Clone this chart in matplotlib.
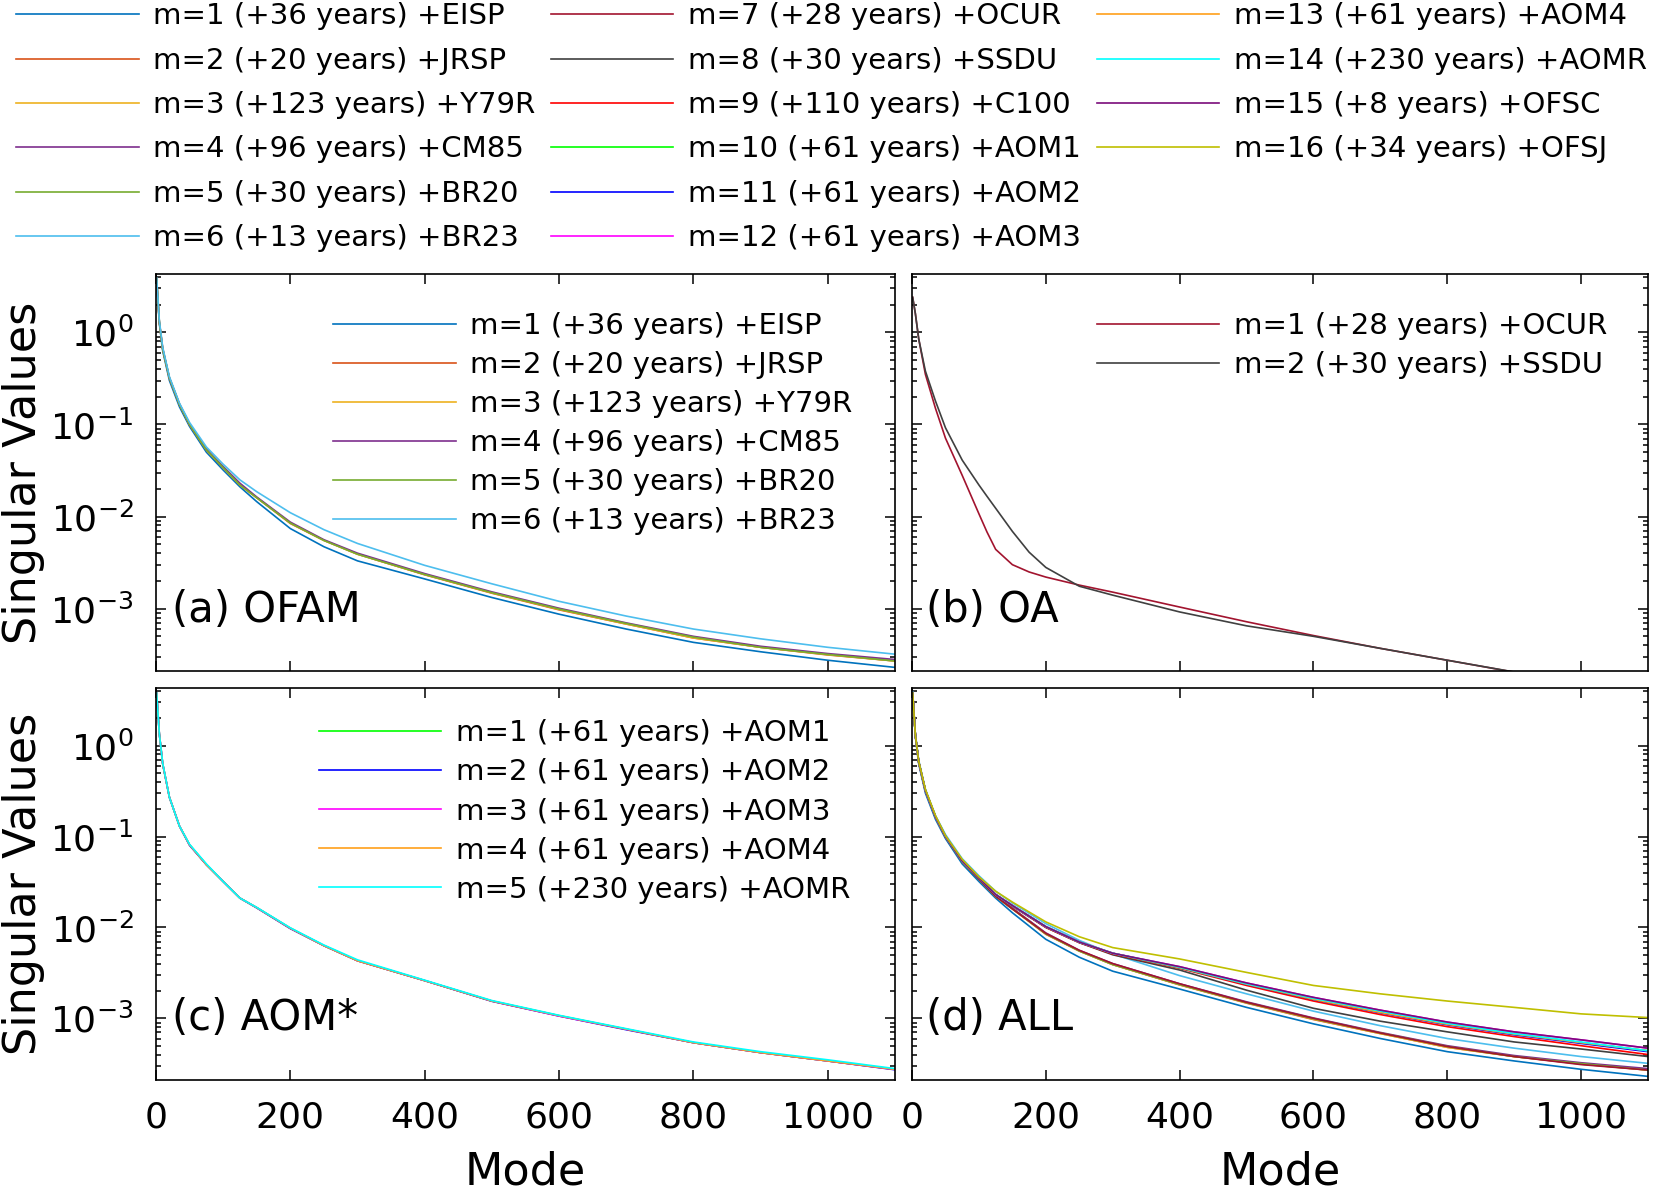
import numpy as np
import matplotlib.pyplot as plt

plt.rcParams['font.family'] = ['DejaVu Sans']
plt.rcParams['axes.unicode_minus'] = False

modes = [1, 5, 10, 20, 35, 50, 75, 100, 125, 150, 200, 250, 300,
         400, 500, 600, 700, 800, 900, 1000, 1100]
# panel (b) has a sharper knee, so it got a few extra reading points
modes_b = [1, 5, 10, 20, 35, 50, 75, 100, 112, 125, 150, 175, 200, 250, 300,
           400, 500, 600, 700, 800, 900, 1000, 1100]

# (a) OFAM
eisp = [3.6, 1.25, 0.63, 0.30, 0.155, 0.095, 0.050, 0.032, 0.021, 0.0145, 0.0074, 0.0047, 0.0033,
        0.0021, 0.00132, 0.00087, 0.00060, 0.00043, 0.00034, 0.000275, 0.00023]
jrsp = [3.8, 1.3, 0.66, 0.32, 0.165, 0.099, 0.053, 0.034, 0.022, 0.016, 0.0084, 0.0055, 0.0039,
        0.00233, 0.00147, 0.00097, 0.00068, 0.00048, 0.00038, 0.000314, 0.00027]
y79r = [3.8, 1.3, 0.66, 0.32, 0.165, 0.100, 0.053, 0.034, 0.022, 0.016, 0.0085, 0.0055, 0.0039,
        0.00234, 0.00148, 0.00098, 0.00068, 0.00048, 0.00038, 0.000316, 0.00027]
cm85 = [3.8, 1.3, 0.67, 0.32, 0.167, 0.101, 0.054, 0.035, 0.023, 0.0163, 0.0087, 0.0056, 0.0040,
        0.00240, 0.00152, 0.00101, 0.00070, 0.00050, 0.00039, 0.000325, 0.00028]
br20 = [3.8, 1.3, 0.66, 0.32, 0.165, 0.100, 0.053, 0.034, 0.022, 0.016, 0.0085, 0.0055, 0.0039,
        0.00235, 0.00149, 0.00099, 0.00069, 0.00049, 0.00038, 0.000318, 0.00027]
br23 = [3.9, 1.35, 0.69, 0.33, 0.17, 0.105, 0.057, 0.037, 0.025, 0.0186, 0.0110, 0.0072, 0.0051,
        0.00295, 0.00186, 0.00120, 0.00083, 0.00060, 0.00047, 0.00038, 0.00032]

# (b) OA
ocur = [2.4, 1.6, 0.85, 0.35, 0.15, 0.071, 0.028, 0.0107, 0.0068, 0.0044, 0.0030, 0.0025, 0.0022,
        0.0018, 0.00151, 0.00104, 0.00072, 0.00051, 0.00037, 0.000275, 0.000204, 0.000150, 0.000110]
ssdu = [2.4, 1.6, 0.85, 0.38, 0.18, 0.092, 0.041, 0.022, 0.0166, 0.0123, 0.0069, 0.0041, 0.0028,
        0.00175, 0.00140, 0.00092, 0.00065, 0.00050, 0.00037, 0.000275, 0.000205, 0.000150, 0.000110]

# (c) AOM*
aom1 = [3.8, 1.35, 0.63, 0.27, 0.13, 0.081, 0.049, 0.032, 0.021, 0.0165, 0.0098, 0.0063, 0.0043,
        0.0026, 0.00155, 0.00107, 0.00076, 0.00054, 0.00042, 0.00034, 0.000275]
aom2 = [3.8, 1.35, 0.63, 0.27, 0.13, 0.080, 0.049, 0.032, 0.021, 0.0164, 0.0097, 0.0063, 0.0043,
        0.0026, 0.00154, 0.00106, 0.00075, 0.00054, 0.00042, 0.00034, 0.000272]
aom3 = [3.8, 1.35, 0.63, 0.27, 0.13, 0.081, 0.049, 0.032, 0.021, 0.0165, 0.0098, 0.0063, 0.0043,
        0.0026, 0.00155, 0.00106, 0.00076, 0.00054, 0.00042, 0.00034, 0.000274]
aom4 = [3.8, 1.35, 0.63, 0.27, 0.13, 0.081, 0.049, 0.032, 0.021, 0.0165, 0.0098, 0.0063, 0.0043,
        0.0026, 0.00155, 0.00107, 0.00076, 0.00054, 0.00042, 0.00034, 0.000275]
aomr = [3.8, 1.35, 0.64, 0.27, 0.13, 0.082, 0.050, 0.032, 0.021, 0.0166, 0.0099, 0.0064, 0.0044,
        0.00263, 0.00157, 0.00108, 0.00077, 0.00055, 0.00043, 0.00035, 0.00028]

# (d) ALL : m=1..6 same as (a), the rest
all_ocur = [3.8, 1.3, 0.66, 0.32, 0.165, 0.100, 0.053, 0.034, 0.022, 0.016, 0.0086, 0.0056, 0.0040,
            0.00240, 0.00150, 0.00100, 0.00069, 0.00049, 0.00038, 0.00031, 0.00027]
all_ssdu = [3.8, 1.3, 0.66, 0.32, 0.165, 0.100, 0.054, 0.035, 0.023, 0.0172, 0.0100, 0.0068, 0.0050,
            0.0034, 0.00204, 0.00129, 0.00093, 0.00071, 0.00055, 0.00046, 0.00038]
all_c100 = [3.8, 1.3, 0.66, 0.32, 0.165, 0.100, 0.054, 0.035, 0.023, 0.0172, 0.0100, 0.0068, 0.0051,
            0.00355, 0.0023, 0.00155, 0.0011, 0.00081, 0.00063, 0.00050, 0.00040]
all_aom1 = [3.8, 1.3, 0.66, 0.32, 0.165, 0.100, 0.054, 0.035, 0.023, 0.0174, 0.0102, 0.0069, 0.0052,
            0.0036, 0.00238, 0.00162, 0.00116, 0.00086, 0.00067, 0.00054, 0.00044]
all_aom2 = [3.8, 1.3, 0.66, 0.32, 0.165, 0.100, 0.054, 0.035, 0.023, 0.0174, 0.0102, 0.0069, 0.0052,
            0.0036, 0.00237, 0.00161, 0.00115, 0.00085, 0.00066, 0.00053, 0.00043]
all_aom3 = [3.8, 1.3, 0.66, 0.32, 0.165, 0.100, 0.054, 0.035, 0.023, 0.0174, 0.0102, 0.0069, 0.0052,
            0.0037, 0.00245, 0.00170, 0.00123, 0.00091, 0.00071, 0.00058, 0.00047]
all_aom4 = [3.8, 1.3, 0.66, 0.32, 0.165, 0.100, 0.054, 0.035, 0.023, 0.0174, 0.0102, 0.0069, 0.0052,
            0.0036, 0.00238, 0.00162, 0.00116, 0.00086, 0.00067, 0.00054, 0.00044]
all_aomr = [3.8, 1.3, 0.66, 0.32, 0.165, 0.100, 0.054, 0.035, 0.023, 0.0174, 0.0102, 0.0069, 0.0052,
            0.00365, 0.0024, 0.00166, 0.00120, 0.00088, 0.00068, 0.00055, 0.00044]
all_ofsc = [3.8, 1.3, 0.66, 0.32, 0.165, 0.100, 0.054, 0.035, 0.023, 0.0174, 0.0102, 0.0069, 0.0052,
            0.0037, 0.00245, 0.00170, 0.00123, 0.00091, 0.00071, 0.00058, 0.00047]
all_ofsj = [3.8, 1.3, 0.67, 0.33, 0.17, 0.102, 0.056, 0.036, 0.025, 0.0190, 0.0115, 0.0079, 0.0060,
            0.0045, 0.0032, 0.0023, 0.00186, 0.00155, 0.00132, 0.00112, 0.00102]

labels_all = ['m=1 (+36 years) +EISP', 'm=2 (+20 years) +JRSP', 'm=3 (+123 years) +Y79R',
              'm=4 (+96 years) +CM85', 'm=5 (+30 years) +BR20', 'm=6 (+13 years) +BR23',
              'm=7 (+28 years) +OCUR', 'm=8 (+30 years) +SSDU', 'm=9 (+110 years) +C100',
              'm=10 (+61 years) +AOM1', 'm=11 (+61 years) +AOM2', 'm=12 (+61 years) +AOM3',
              'm=13 (+61 years) +AOM4', 'm=14 (+230 years) +AOMR', 'm=15 (+8 years) +OFSC',
              'm=16 (+34 years) +OFSJ']
labels_a = ['m=1 (+36 years) +EISP', 'm=2 (+20 years) +JRSP', 'm=3 (+123 years) +Y79R',
            'm=4 (+96 years) +CM85', 'm=5 (+30 years) +BR20', 'm=6 (+13 years) +BR23']
labels_b = ['m=1 (+28 years) +OCUR', 'm=2 (+30 years) +SSDU']
labels_c = ['m=1 (+61 years) +AOM1', 'm=2 (+61 years) +AOM2', 'm=3 (+61 years) +AOM3',
            'm=4 (+61 years) +AOM4', 'm=5 (+230 years) +AOMR']

colors = ['#0072BD', '#D95319', '#EDB120', '#7E2F8E', '#77AC30', '#4DBEEE',
          '#A2142F', '#404040', '#FF0000', '#00FF00', '#0000FF', '#FF00FF',
          '#FF9F1A', '#00FFFF', '#7A0C7A', '#BFBF00']

series_a = [eisp, jrsp, y79r, cm85, br20, br23]
series_b = [ocur, ssdu]
series_c = [aom1, aom2, aom3, aom4, aomr]
series_d = series_a + [all_ocur, all_ssdu, all_c100, all_aom1, all_aom2,
                       all_aom3, all_aom4, all_aomr, all_ofsc, all_ofsj]

fs_leg = 21
lw = 1.2

fig = plt.figure(figsize=(16.54, 11.94), dpi=100)
ax_a = fig.add_axes([0.0943, 0.438, 0.4468, 0.3325])
ax_b = fig.add_axes([0.5514, 0.438, 0.445, 0.3325])
ax_c = fig.add_axes([0.0943, 0.0955, 0.4468, 0.3283])
ax_d = fig.add_axes([0.5514, 0.0955, 0.445, 0.3283])

# panel (a)
for vals, c, lab in zip(series_a, colors[:6], labels_a):
    ax_a.plot(modes, vals, color=c, lw=lw, label=lab)
# panel (b)
for vals, c, lab in zip(series_b, colors[6:8], labels_b):
    ax_b.plot(modes_b, vals, color=c, lw=lw, label=lab)
# panel (c)
for vals, c, lab in zip(series_c, colors[9:14], labels_c):
    ax_c.plot(modes, vals, color=c, lw=lw, label=lab)
# panel (d)
lines_d = []
for vals, c, lab in zip(series_d, colors, labels_all):
    ln, = ax_d.plot(modes, vals, color=c, lw=lw, label=lab)
    lines_d.append(ln)

for ax in [ax_a, ax_b, ax_c, ax_d]:
    ax.set_yscale('log')
    ax.set_xlim(0, 1100)
    ax.set_ylim(2.1e-4, 4.3)
    ax.set_xticks([0, 200, 400, 600, 800, 1000])
    ax.set_yticks([1e-3, 1e-2, 1e-1, 1])
    ax.tick_params(which='both', direction='in', top=True, right=True, width=1.1)
    ax.tick_params(which='major', length=7, labelsize=26)
    ax.tick_params(which='minor', length=3.5)
    ax.tick_params(axis='y', pad=16)
    ax.tick_params(axis='x', pad=15)
    for sp in ax.spines.values():
        sp.set_linewidth(1.2)

ax_a.tick_params(labelbottom=False)
ax_b.tick_params(labelbottom=False, labelleft=False)
ax_d.tick_params(labelleft=False)

ax_a.set_ylabel('Singular Values', fontsize=32)
ax_c.set_ylabel('Singular Values', fontsize=32)
ax_a.yaxis.set_label_coords(-0.15, 0.5)
ax_c.yaxis.set_label_coords(-0.15, 0.5)
ax_c.set_xlabel('Mode', fontsize=32)
ax_d.set_xlabel('Mode', fontsize=32)
ax_c.xaxis.set_label_coords(0.5, -0.18)
ax_d.xaxis.set_label_coords(0.5, -0.18)

# panel tags
ax_a.text(0.022, 0.154, '(a) OFAM', transform=ax_a.transAxes, fontsize=30, va='center')
ax_b.text(0.019, 0.154, '(b) OA', transform=ax_b.transAxes, fontsize=30, va='center')
ax_c.text(0.022, 0.158, '(c) AOM*', transform=ax_c.transAxes, fontsize=30, va='center')
ax_d.text(0.019, 0.158, '(d) ALL', transform=ax_d.transAxes, fontsize=30, va='center')

leg_kw = dict(loc='upper left', frameon=False, fontsize=fs_leg, handlelength=4.2,
              handletextpad=0.5, borderpad=0, borderaxespad=0)
ax_a.legend(bbox_to_anchor=(0.24, 0.905), labelspacing=0.38, **leg_kw)
ax_b.legend(bbox_to_anchor=(0.251, 0.905), labelspacing=0.38, **leg_kw)
ax_c.legend(bbox_to_anchor=(0.22, 0.92), labelspacing=0.38, **leg_kw)

# big legend on top, three columns
fig.legend(handles=lines_d[0:6], bbox_to_anchor=(0.0097, 0.998), labelspacing=0.56, **leg_kw)
fig.legend(handles=lines_d[6:12], bbox_to_anchor=(0.333, 0.998), labelspacing=0.56, **leg_kw)
fig.legend(handles=lines_d[12:16], bbox_to_anchor=(0.663, 0.998), labelspacing=0.56, **leg_kw)

fig.savefig('out.png', dpi=100)
